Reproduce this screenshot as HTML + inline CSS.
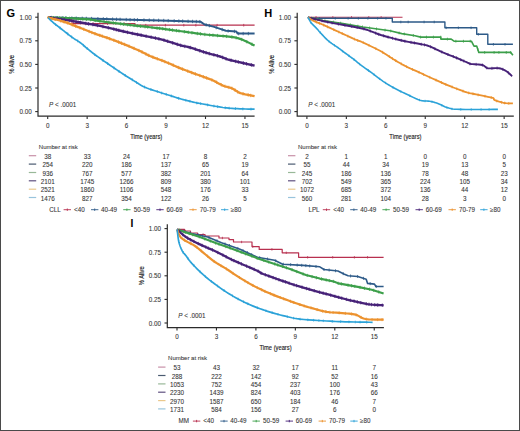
<!DOCTYPE html>
<html><head><meta charset="utf-8"><style>
html,body{margin:0;padding:0;background:#fff;}
svg{display:block;font-family:"Liberation Sans",sans-serif;}
text{stroke:#444;stroke-width:0.08px;}
</style></head><body>
<svg width="520" height="431" viewBox="0 0 520 431">
<rect x="0" y="0" width="520" height="431" fill="#fff"/>
<g transform="translate(0,0)">
<text x="6.6" y="16.6" font-size="11" font-weight="bold" fill="#000">G</text>
<path d="M38,12.8 V116.2 H254.6" fill="none" stroke="#2b2b2b" stroke-width="1.2"/>
<path d="M35.2,111.60 H38" stroke="#2b2b2b" stroke-width="1.1"/>
<text x="31.8" y="114.25" font-size="6.3" text-anchor="end" fill="#333">0.00</text>
<path d="M35.2,88.00 H38" stroke="#2b2b2b" stroke-width="1.1"/>
<text x="31.8" y="90.65" font-size="6.3" text-anchor="end" fill="#333">0.25</text>
<path d="M35.2,64.40 H38" stroke="#2b2b2b" stroke-width="1.1"/>
<text x="31.8" y="67.05" font-size="6.3" text-anchor="end" fill="#333">0.50</text>
<path d="M35.2,40.80 H38" stroke="#2b2b2b" stroke-width="1.1"/>
<text x="31.8" y="43.45" font-size="6.3" text-anchor="end" fill="#333">0.75</text>
<path d="M35.2,17.20 H38" stroke="#2b2b2b" stroke-width="1.1"/>
<text x="31.8" y="19.85" font-size="6.3" text-anchor="end" fill="#333">1.00</text>
<path d="M47.70,116.2 V119" stroke="#2b2b2b" stroke-width="1.1"/>
<text x="47.70" y="128.1" font-size="6.3" text-anchor="middle" fill="#333">0</text>
<path d="M87.15,116.2 V119" stroke="#2b2b2b" stroke-width="1.1"/>
<text x="87.15" y="128.1" font-size="6.3" text-anchor="middle" fill="#333">3</text>
<path d="M126.60,116.2 V119" stroke="#2b2b2b" stroke-width="1.1"/>
<text x="126.60" y="128.1" font-size="6.3" text-anchor="middle" fill="#333">6</text>
<path d="M166.05,116.2 V119" stroke="#2b2b2b" stroke-width="1.1"/>
<text x="166.05" y="128.1" font-size="6.3" text-anchor="middle" fill="#333">9</text>
<path d="M205.50,116.2 V119" stroke="#2b2b2b" stroke-width="1.1"/>
<text x="205.50" y="128.1" font-size="6.3" text-anchor="middle" fill="#333">12</text>
<path d="M244.95,116.2 V119" stroke="#2b2b2b" stroke-width="1.1"/>
<text x="244.95" y="128.1" font-size="6.3" text-anchor="middle" fill="#333">15</text>
<text transform="translate(146.2,138.7) scale(0.76,1)" font-size="7.6" text-anchor="middle" fill="#1a1a1a" style="stroke:#1a1a1a;stroke-width:0.15px">Time (years)</text>
<text transform="translate(14.4,64.4) rotate(-90) scale(0.76,1)" font-size="7.6" text-anchor="middle" fill="#1a1a1a" style="stroke:#1a1a1a;stroke-width:0.15px">% Alive</text>
<text x="49" y="106.5" font-size="6.3" fill="#333"><tspan font-style="italic">P</tspan> &lt; .0001</text>
<text x="38.8" y="148.8" font-size="6.0" fill="#333">Number at risk</text>
<path d="M28.8,155.70 H36.2" stroke="#c890a8" stroke-width="1.2"/>
<text x="47.70" y="158.75" font-size="6.3" text-anchor="middle" fill="#333">38</text>
<text x="87.15" y="158.75" font-size="6.3" text-anchor="middle" fill="#333">33</text>
<text x="126.60" y="158.75" font-size="6.3" text-anchor="middle" fill="#333">24</text>
<text x="166.05" y="158.75" font-size="6.3" text-anchor="middle" fill="#333">17</text>
<text x="205.50" y="158.75" font-size="6.3" text-anchor="middle" fill="#333">8</text>
<text x="244.95" y="158.75" font-size="6.3" text-anchor="middle" fill="#333">2</text>
<path d="M28.8,164.10 H36.2" stroke="#4a5a70" stroke-width="1.2"/>
<text x="47.70" y="167.15" font-size="6.3" text-anchor="middle" fill="#333">254</text>
<text x="87.15" y="167.15" font-size="6.3" text-anchor="middle" fill="#333">220</text>
<text x="126.60" y="167.15" font-size="6.3" text-anchor="middle" fill="#333">186</text>
<text x="166.05" y="167.15" font-size="6.3" text-anchor="middle" fill="#333">137</text>
<text x="205.50" y="167.15" font-size="6.3" text-anchor="middle" fill="#333">65</text>
<text x="244.95" y="167.15" font-size="6.3" text-anchor="middle" fill="#333">19</text>
<path d="M28.8,172.50 H36.2" stroke="#98b898" stroke-width="1.2"/>
<text x="47.70" y="175.55" font-size="6.3" text-anchor="middle" fill="#333">936</text>
<text x="87.15" y="175.55" font-size="6.3" text-anchor="middle" fill="#333">767</text>
<text x="126.60" y="175.55" font-size="6.3" text-anchor="middle" fill="#333">577</text>
<text x="166.05" y="175.55" font-size="6.3" text-anchor="middle" fill="#333">382</text>
<text x="205.50" y="175.55" font-size="6.3" text-anchor="middle" fill="#333">201</text>
<text x="244.95" y="175.55" font-size="6.3" text-anchor="middle" fill="#333">64</text>
<path d="M28.8,180.80 H36.2" stroke="#605080" stroke-width="1.2"/>
<text x="47.70" y="183.85" font-size="6.3" text-anchor="middle" fill="#333">2101</text>
<text x="87.15" y="183.85" font-size="6.3" text-anchor="middle" fill="#333">1745</text>
<text x="126.60" y="183.85" font-size="6.3" text-anchor="middle" fill="#333">1266</text>
<text x="166.05" y="183.85" font-size="6.3" text-anchor="middle" fill="#333">809</text>
<text x="205.50" y="183.85" font-size="6.3" text-anchor="middle" fill="#333">380</text>
<text x="244.95" y="183.85" font-size="6.3" text-anchor="middle" fill="#333">101</text>
<path d="M28.8,189.20 H36.2" stroke="#eac88c" stroke-width="1.2"/>
<text x="47.70" y="192.25" font-size="6.3" text-anchor="middle" fill="#333">2521</text>
<text x="87.15" y="192.25" font-size="6.3" text-anchor="middle" fill="#333">1860</text>
<text x="126.60" y="192.25" font-size="6.3" text-anchor="middle" fill="#333">1106</text>
<text x="166.05" y="192.25" font-size="6.3" text-anchor="middle" fill="#333">548</text>
<text x="205.50" y="192.25" font-size="6.3" text-anchor="middle" fill="#333">176</text>
<text x="244.95" y="192.25" font-size="6.3" text-anchor="middle" fill="#333">33</text>
<path d="M28.8,197.50 H36.2" stroke="#98c4dc" stroke-width="1.2"/>
<text x="47.70" y="200.55" font-size="6.3" text-anchor="middle" fill="#333">1476</text>
<text x="87.15" y="200.55" font-size="6.3" text-anchor="middle" fill="#333">827</text>
<text x="126.60" y="200.55" font-size="6.3" text-anchor="middle" fill="#333">354</text>
<text x="166.05" y="200.55" font-size="6.3" text-anchor="middle" fill="#333">122</text>
<text x="205.50" y="200.55" font-size="6.3" text-anchor="middle" fill="#333">26</text>
<text x="244.95" y="200.55" font-size="6.3" text-anchor="middle" fill="#333">5</text>
<text x="49.2" y="211.85" font-size="6.3" fill="#333">CLL</text>
<path d="M63.60,209.7 h7.4 M67.30,208.5 v2.4" stroke="#b8304f" stroke-width="0.9" fill="none"/>
<text x="74.00" y="211.85" font-size="6.3" fill="#333"><40</text>
<path d="M91.00,209.7 h7.4 M94.70,208.5 v2.4" stroke="#2d5a88" stroke-width="0.9" fill="none"/>
<text x="101.00" y="211.85" font-size="6.3" fill="#333">40-49</text>
<path d="M123.20,209.7 h7.4 M126.90,208.5 v2.4" stroke="#3c9f4a" stroke-width="0.9" fill="none"/>
<text x="133.80" y="211.85" font-size="6.3" fill="#333">50-59</text>
<path d="M156.30,209.7 h7.4 M160.00,208.5 v2.4" stroke="#472278" stroke-width="0.9" fill="none"/>
<text x="166.50" y="211.85" font-size="6.3" fill="#333">60-69</text>
<path d="M189.30,209.7 h7.4 M193.00,208.5 v2.4" stroke="#ec922e" stroke-width="0.9" fill="none"/>
<text x="199.70" y="211.85" font-size="6.3" fill="#333">70-79</text>
<path d="M221.00,209.7 h7.4 M224.70,208.5 v2.4" stroke="#2ba2d8" stroke-width="0.9" fill="none"/>
<text x="230.80" y="211.85" font-size="6.3" fill="#333">≥80</text>
</g>
<polyline points="48.20,17.50 58.00,17.50 58.00,19.60 72.00,19.60 72.00,23.60 135.00,23.60 135.00,25.20 254.60,25.20" fill="none" stroke="#b8304f" stroke-width="1.2" stroke-linejoin="round"/>
<path d="M68.20,18.30v2.60M93.08,22.30v2.60M107.51,22.30v2.60M124.29,22.30v2.60M145.77,23.90v2.60M165.39,23.90v2.60M183.81,23.90v2.60M195.83,23.90v2.60M217.14,23.90v2.60M243.73,23.90v2.60" stroke="#b8304f" stroke-width="0.8" fill="none"/>
<polyline points="48.20,17.50 105.00,18.90 130.00,19.70 160.00,20.40 200.40,21.70 204.50,24.50 213.40,26.60 221.70,29.40 225.90,30.80 236.30,31.50 237.70,33.60 254.60,33.60" fill="none" stroke="#2d5a88" stroke-width="2.0" stroke-linejoin="round"/>
<path d="M51.48,15.88v3.40M56.98,16.02v3.40M62.20,16.15v3.40M65.69,16.23v3.40M71.85,16.38v3.40M76.23,16.49v3.40M82.23,16.64v3.40M86.31,16.74v3.40M91.58,16.87v3.40M97.89,17.02v3.40M103.30,17.16v3.40M106.81,17.26v3.40M112.60,17.44v3.40M116.52,17.57v3.40M120.09,17.68v3.40M126.24,17.88v3.40M130.07,18.00v3.40M134.27,18.10v3.40M137.46,18.17v3.40M143.96,18.33v3.40M149.25,18.45v3.40M153.79,18.56v3.40M158.62,18.67v3.40M163.72,18.82v3.40M168.21,18.96v3.40M174.16,19.16v3.40M178.84,19.31v3.40M182.66,19.43v3.40M188.08,19.60v3.40M192.55,19.75v3.40M196.32,19.87v3.40M199.82,19.98v3.40M206.16,23.19v3.40M209.35,23.94v3.40M216.22,25.85v3.40M222.17,27.86v3.40M228.11,29.25v3.40M234.45,29.68v3.40M238.67,31.90v3.40M243.17,31.90v3.40M248.35,31.90v3.40" stroke="#2d5a88" stroke-width="0.8" fill="none"/>
<polyline points="48.20,17.50 52.46,17.67 58.55,17.90 65.66,18.17 72.99,18.47 79.70,18.79 85.00,19.10 88.59,19.40 91.06,19.70 92.92,20.01 94.70,20.36 96.88,20.75 100.00,21.20 104.13,21.74 108.89,22.36 114.06,23.02 119.44,23.70 124.83,24.37 130.00,25.00 135.00,25.58 140.00,26.14 145.00,26.68 150.00,27.23 155.00,27.80 160.00,28.40 165.17,29.07 170.56,29.79 175.94,30.54 181.11,31.26 185.87,31.93 190.00,32.50 193.37,32.96 196.11,33.35 198.44,33.67 200.56,33.96 202.67,34.23 205.00,34.50 207.53,34.76 210.08,34.99 212.64,35.19 215.16,35.39 217.63,35.59 220.00,35.80 222.30,36.00 224.54,36.18 226.72,36.36 228.84,36.56 230.87,36.80 232.80,37.10 234.58,37.43 236.21,37.78 237.75,38.17 239.28,38.62 240.87,39.15 242.60,39.80 244.61,40.65 246.88,41.72 249.21,42.87 251.41,43.98 253.27,44.93 254.60,45.60" fill="none" stroke="#3c9f4a" stroke-width="2.2" stroke-linejoin="round"/>
<path d="M53.42,16.00v3.40M57.23,16.15v3.40M59.71,16.24v3.40M63.26,16.38v3.40M66.38,16.50v3.40M69.55,16.63v3.40M74.82,16.86v3.40M78.32,17.02v3.40M82.82,17.27v3.40M86.42,17.52v3.40M90.63,17.95v3.40M95.22,18.75v3.40M99.85,19.48v3.40M104.17,20.04v3.40M108.80,20.64v3.40M113.33,21.23v3.40M115.78,21.54v3.40M120.68,22.15v3.40M123.45,22.50v3.40M127.60,23.01v3.40M130.20,23.32v3.40M134.02,23.77v3.40M137.28,24.13v3.40M140.49,24.49v3.40M145.05,24.99v3.40M147.65,25.27v3.40M152.04,25.76v3.40M157.06,26.35v3.40M159.58,26.65v3.40M162.74,27.05v3.40M165.70,27.44v3.40M169.52,27.95v3.40M172.50,28.36v3.40M176.50,28.92v3.40M179.01,29.27v3.40M184.35,30.02v3.40M188.24,30.56v3.40M191.95,31.07v3.40M197.37,31.82v3.40M200.52,32.26v3.40M204.82,32.78v3.40M209.68,33.25v3.40M212.96,33.52v3.40M217.52,33.88v3.40M223.02,34.36v3.40M226.60,34.65v3.40M231.90,35.26v3.40M236.14,36.07v3.40M241.72,37.77v3.40M246.81,39.98v3.40M251.97,42.57v3.40" stroke="#3c9f4a" stroke-width="0.8" fill="none"/>
<polyline points="48.20,17.50 50.25,17.78 53.10,18.15 56.48,18.60 60.10,19.09 63.70,19.60 67.00,20.10 70.08,20.61 73.17,21.14 76.24,21.70 79.25,22.26 82.18,22.79 85.00,23.30 87.50,23.72 89.67,24.05 91.75,24.36 94.00,24.73 96.67,25.22 100.00,25.90 104.13,26.82 108.89,27.94 114.06,29.17 119.44,30.46 124.83,31.73 130.00,32.90 135.12,33.98 140.37,35.03 145.62,36.06 150.74,37.07 155.58,38.08 160.00,39.10 164.03,40.17 167.78,41.28 171.25,42.39 174.44,43.45 177.36,44.40 180.00,45.20 182.19,45.77 183.89,46.15 185.31,46.43 186.67,46.68 188.16,47.01 190.00,47.50 192.21,48.18 194.63,48.97 197.19,49.84 199.81,50.73 202.44,51.60 205.00,52.40 207.56,53.14 210.19,53.85 212.81,54.54 215.37,55.21 217.79,55.86 220.00,56.50 221.79,57.09 223.16,57.63 224.40,58.16 225.77,58.70 227.55,59.30 230.00,60.00 233.54,60.88 238.03,61.92 242.93,63.02 247.68,64.07 251.75,64.97 254.60,65.60" fill="none" stroke="#472278" stroke-width="2.4" stroke-linejoin="round"/>
<path d="M50.63,16.03v3.60M55.42,16.66v3.60M57.83,16.98v3.60M61.19,17.45v3.60M64.30,17.89v3.60M69.31,18.68v3.60M73.37,19.38v3.60M76.07,19.87v3.60M80.53,20.69v3.60M85.80,21.63v3.60M88.43,22.06v3.60M92.83,22.74v3.60M97.47,23.58v3.60M102.95,24.76v3.60M108.30,26.00v3.60M113.83,27.32v3.60M116.28,27.91v3.60M118.83,28.52v3.60M123.29,29.57v3.60M127.53,30.54v3.60M132.25,31.58v3.60M137.56,32.67v3.60M141.18,33.39v3.60M146.10,34.35v3.60M151.11,35.35v3.60M155.45,36.26v3.60M158.89,37.05v3.60M163.99,38.36v3.60M167.68,39.45v3.60M172.67,41.06v3.60M177.30,42.59v3.60M180.64,43.57v3.60M184.79,44.52v3.60M190.26,45.78v3.60M195.30,47.40v3.60M199.72,48.90v3.60M203.44,50.11v3.60M206.06,50.91v3.60M209.31,51.81v3.60M213.89,53.02v3.60M217.43,53.96v3.60M222.61,55.62v3.60M226.04,56.99v3.60M231.06,58.46v3.60M235.68,59.57v3.60M238.30,60.18v3.60M243.42,61.33v3.60M246.55,62.02v3.60M251.34,63.08v3.60" stroke="#472278" stroke-width="0.8" fill="none"/>
<polyline points="48.20,17.50 48.24,17.51 48.18,17.50 48.16,17.49 48.36,17.55 48.92,17.70 50.00,18.00 51.74,18.46 54.02,19.04 56.67,19.72 59.51,20.48 62.35,21.28 65.00,22.10 67.50,22.96 70.00,23.87 72.50,24.84 75.00,25.83 77.50,26.82 80.00,27.80 82.50,28.78 85.00,29.78 87.50,30.79 90.00,31.79 92.50,32.76 95.00,33.70 97.50,34.59 100.00,35.43 102.50,36.26 105.00,37.08 107.50,37.92 110.00,38.80 112.50,39.72 115.00,40.66 117.50,41.62 120.00,42.60 122.50,43.59 125.00,44.60 127.56,45.65 130.19,46.74 132.81,47.85 135.37,48.95 137.79,50.01 140.00,51.00 141.90,51.91 143.52,52.74 145.00,53.54 146.48,54.33 148.10,55.14 150.00,56.00 152.21,56.90 154.63,57.82 157.19,58.76 159.81,59.72 162.44,60.70 165.00,61.70 167.50,62.73 170.00,63.81 172.50,64.90 175.00,65.99 177.50,67.07 180.00,68.10 182.48,69.09 184.94,70.04 187.41,70.97 189.89,71.90 192.41,72.84 195.00,73.80 197.72,74.78 200.57,75.79 203.47,76.79 206.31,77.80 209.02,78.81 211.50,79.80 213.73,80.81 215.79,81.86 217.70,82.89 219.51,83.89 221.27,84.80 223.00,85.60 224.69,86.23 226.31,86.72 227.86,87.12 229.37,87.51 230.84,87.95 232.30,88.50 233.65,89.19 234.86,89.96 236.04,90.79 237.29,91.61 238.71,92.40 240.40,93.10 242.58,93.74 245.21,94.36 248.01,94.94 250.69,95.45 252.98,95.88 254.60,96.20" fill="none" stroke="#ec922e" stroke-width="2.3" stroke-linejoin="round"/>
<path d="M52.01,16.83v3.40M55.16,17.63v3.40M60.50,19.06v3.40M64.02,20.10v3.40M67.33,21.20v3.40M72.24,23.04v3.40M75.49,24.32v3.40M79.90,26.06v3.40M83.79,27.60v3.40M89.18,29.76v3.40M91.87,30.82v3.40M94.96,31.98v3.40M99.79,33.66v3.40M102.28,34.48v3.40M106.90,36.02v3.40M109.61,36.96v3.40M113.84,38.52v3.40M118.56,40.33v3.40M121.47,41.48v3.40M124.59,42.73v3.40M129.11,44.59v3.40M134.08,46.69v3.40M138.91,48.81v3.40M142.06,50.29v3.40M145.92,52.34v3.40M148.74,53.73v3.40M152.84,55.44v3.40M157.31,57.11v3.40M161.88,58.79v3.40M164.81,59.92v3.40M168.42,61.43v3.40M173.29,63.54v3.40M178.63,65.83v3.40M182.56,67.42v3.40M187.73,69.39v3.40M191.70,70.87v3.40M195.49,72.28v3.40M199.82,73.82v3.40M203.40,75.07v3.40M206.61,76.21v3.40M211.90,78.28v3.40M216.64,80.62v3.40M221.27,83.11v3.40M225.03,84.63v3.40M228.88,85.69v3.40M231.93,86.66v3.40M235.08,88.42v3.40M237.57,90.07v3.40M242.99,92.14v3.40M248.20,93.27v3.40M250.67,93.75v3.40" stroke="#ec922e" stroke-width="0.8" fill="none"/>
<polyline points="48.20,17.50 48.37,17.71 48.57,17.98 48.83,18.31 49.15,18.69 49.53,19.12 50.00,19.60 50.57,20.15 51.24,20.78 51.98,21.46 52.75,22.16 53.54,22.85 54.30,23.50 55.03,24.09 55.76,24.65 56.49,25.19 57.24,25.75 58.04,26.35 58.90,27.00 59.81,27.71 60.76,28.46 61.75,29.24 62.79,30.06 63.87,30.92 65.00,31.80 66.21,32.75 67.50,33.76 68.83,34.81 70.18,35.85 71.52,36.86 72.80,37.80 74.03,38.64 75.24,39.41 76.44,40.15 77.62,40.89 78.81,41.66 80.00,42.50 81.21,43.43 82.42,44.43 83.64,45.46 84.84,46.50 86.03,47.53 87.20,48.50 88.34,49.43 89.46,50.35 90.56,51.24 91.65,52.12 92.73,52.97 93.80,53.80 94.81,54.57 95.76,55.27 96.69,55.95 97.67,56.65 98.75,57.42 100.00,58.30 101.45,59.31 103.05,60.43 104.76,61.61 106.53,62.82 108.29,64.03 110.00,65.20 111.70,66.36 113.43,67.55 115.17,68.74 116.87,69.89 118.49,70.99 120.00,72.00 121.37,72.90 122.62,73.72 123.79,74.48 124.94,75.20 126.09,75.94 127.30,76.70 128.54,77.48 129.77,78.26 131.01,79.04 132.28,79.84 133.60,80.65 135.00,81.50 136.43,82.39 137.86,83.32 139.34,84.27 140.93,85.23 142.67,86.18 144.60,87.10 146.84,88.01 149.37,88.94 152.05,89.85 154.74,90.73 157.30,91.55 159.60,92.30 161.59,92.95 163.39,93.50 165.05,94.01 166.66,94.49 168.29,94.97 170.00,95.50 171.76,96.07 173.51,96.64 175.28,97.23 177.09,97.82 178.99,98.41 181.00,99.00 183.26,99.61 185.78,100.26 188.38,100.91 190.89,101.52 193.15,102.06 195.00,102.50 196.15,102.78 196.67,102.91 196.94,102.97 197.33,103.04 198.23,103.19 200.00,103.50 202.86,104.02 206.56,104.71 210.75,105.48 215.11,106.26 219.31,106.95 223.00,107.50 226.21,107.88 229.20,108.17 232.03,108.38 234.73,108.53 237.37,108.67 240.00,108.80 242.74,108.92 245.59,109.01 248.36,109.08 250.90,109.13 253.04,109.17 254.60,109.20" fill="none" stroke="#2ba2d8" stroke-width="1.7" stroke-linejoin="round"/>
<path d="M55.61,23.14v2.80M60.16,26.59v2.80M67.72,32.53v2.80M71.60,35.52v2.80M77.68,39.52v2.80M83.41,43.87v2.80M87.24,47.13v2.80M94.73,53.10v2.80M103.00,58.99v2.80M107.65,62.19v2.80M113.97,66.52v2.80M119.01,69.94v2.80M125.24,74.00v2.80M132.34,78.48v2.80M136.56,81.08v2.80M144.40,85.61v2.80M150.87,88.05v2.80M157.29,90.15v2.80M161.69,91.58v2.80M166.22,92.95v2.80M171.28,94.51v2.80M178.56,96.88v2.80M185.82,98.87v2.80M189.93,99.88v2.80M196.84,101.55v2.80M200.69,102.23v2.80M207.66,103.51v2.80M213.91,104.64v2.80M217.63,105.28v2.80M225.22,106.37v2.80M229.19,106.77v2.80M235.45,107.17v2.80M242.83,107.53v2.80M250.99,107.73v2.80" stroke="#2ba2d8" stroke-width="0.8" fill="none"/>
<g transform="translate(259.2,0)">
<text x="5.0" y="16.6" font-size="11" font-weight="bold" fill="#000">H</text>
<path d="M38,12.8 V116.2 H254.6" fill="none" stroke="#2b2b2b" stroke-width="1.2"/>
<path d="M35.2,111.60 H38" stroke="#2b2b2b" stroke-width="1.1"/>
<text x="31.8" y="114.25" font-size="6.3" text-anchor="end" fill="#333">0.00</text>
<path d="M35.2,88.00 H38" stroke="#2b2b2b" stroke-width="1.1"/>
<text x="31.8" y="90.65" font-size="6.3" text-anchor="end" fill="#333">0.25</text>
<path d="M35.2,64.40 H38" stroke="#2b2b2b" stroke-width="1.1"/>
<text x="31.8" y="67.05" font-size="6.3" text-anchor="end" fill="#333">0.50</text>
<path d="M35.2,40.80 H38" stroke="#2b2b2b" stroke-width="1.1"/>
<text x="31.8" y="43.45" font-size="6.3" text-anchor="end" fill="#333">0.75</text>
<path d="M35.2,17.20 H38" stroke="#2b2b2b" stroke-width="1.1"/>
<text x="31.8" y="19.85" font-size="6.3" text-anchor="end" fill="#333">1.00</text>
<path d="M47.70,116.2 V119" stroke="#2b2b2b" stroke-width="1.1"/>
<text x="47.70" y="128.1" font-size="6.3" text-anchor="middle" fill="#333">0</text>
<path d="M87.15,116.2 V119" stroke="#2b2b2b" stroke-width="1.1"/>
<text x="87.15" y="128.1" font-size="6.3" text-anchor="middle" fill="#333">3</text>
<path d="M126.60,116.2 V119" stroke="#2b2b2b" stroke-width="1.1"/>
<text x="126.60" y="128.1" font-size="6.3" text-anchor="middle" fill="#333">6</text>
<path d="M166.05,116.2 V119" stroke="#2b2b2b" stroke-width="1.1"/>
<text x="166.05" y="128.1" font-size="6.3" text-anchor="middle" fill="#333">9</text>
<path d="M205.50,116.2 V119" stroke="#2b2b2b" stroke-width="1.1"/>
<text x="205.50" y="128.1" font-size="6.3" text-anchor="middle" fill="#333">12</text>
<path d="M244.95,116.2 V119" stroke="#2b2b2b" stroke-width="1.1"/>
<text x="244.95" y="128.1" font-size="6.3" text-anchor="middle" fill="#333">15</text>
<text transform="translate(146.2,138.7) scale(0.76,1)" font-size="7.6" text-anchor="middle" fill="#1a1a1a" style="stroke:#1a1a1a;stroke-width:0.15px">Time (years)</text>
<text transform="translate(14.4,64.4) rotate(-90) scale(0.76,1)" font-size="7.6" text-anchor="middle" fill="#1a1a1a" style="stroke:#1a1a1a;stroke-width:0.15px">% Alive</text>
<text x="49" y="106.5" font-size="6.3" fill="#333"><tspan font-style="italic">P</tspan> &lt; .0001</text>
<text x="38.8" y="148.8" font-size="6.0" fill="#333">Number at risk</text>
<path d="M28.8,155.70 H36.2" stroke="#c890a8" stroke-width="1.2"/>
<text x="47.70" y="158.75" font-size="6.3" text-anchor="middle" fill="#333">2</text>
<text x="87.15" y="158.75" font-size="6.3" text-anchor="middle" fill="#333">1</text>
<text x="126.60" y="158.75" font-size="6.3" text-anchor="middle" fill="#333">1</text>
<text x="166.05" y="158.75" font-size="6.3" text-anchor="middle" fill="#333">0</text>
<text x="205.50" y="158.75" font-size="6.3" text-anchor="middle" fill="#333">0</text>
<text x="244.95" y="158.75" font-size="6.3" text-anchor="middle" fill="#333">0</text>
<path d="M28.8,164.10 H36.2" stroke="#4a5a70" stroke-width="1.2"/>
<text x="47.70" y="167.15" font-size="6.3" text-anchor="middle" fill="#333">55</text>
<text x="87.15" y="167.15" font-size="6.3" text-anchor="middle" fill="#333">44</text>
<text x="126.60" y="167.15" font-size="6.3" text-anchor="middle" fill="#333">34</text>
<text x="166.05" y="167.15" font-size="6.3" text-anchor="middle" fill="#333">19</text>
<text x="205.50" y="167.15" font-size="6.3" text-anchor="middle" fill="#333">13</text>
<text x="244.95" y="167.15" font-size="6.3" text-anchor="middle" fill="#333">5</text>
<path d="M28.8,172.50 H36.2" stroke="#98b898" stroke-width="1.2"/>
<text x="47.70" y="175.55" font-size="6.3" text-anchor="middle" fill="#333">245</text>
<text x="87.15" y="175.55" font-size="6.3" text-anchor="middle" fill="#333">186</text>
<text x="126.60" y="175.55" font-size="6.3" text-anchor="middle" fill="#333">136</text>
<text x="166.05" y="175.55" font-size="6.3" text-anchor="middle" fill="#333">78</text>
<text x="205.50" y="175.55" font-size="6.3" text-anchor="middle" fill="#333">48</text>
<text x="244.95" y="175.55" font-size="6.3" text-anchor="middle" fill="#333">23</text>
<path d="M28.8,180.80 H36.2" stroke="#605080" stroke-width="1.2"/>
<text x="47.70" y="183.85" font-size="6.3" text-anchor="middle" fill="#333">702</text>
<text x="87.15" y="183.85" font-size="6.3" text-anchor="middle" fill="#333">549</text>
<text x="126.60" y="183.85" font-size="6.3" text-anchor="middle" fill="#333">365</text>
<text x="166.05" y="183.85" font-size="6.3" text-anchor="middle" fill="#333">224</text>
<text x="205.50" y="183.85" font-size="6.3" text-anchor="middle" fill="#333">105</text>
<text x="244.95" y="183.85" font-size="6.3" text-anchor="middle" fill="#333">34</text>
<path d="M28.8,189.20 H36.2" stroke="#eac88c" stroke-width="1.2"/>
<text x="47.70" y="192.25" font-size="6.3" text-anchor="middle" fill="#333">1072</text>
<text x="87.15" y="192.25" font-size="6.3" text-anchor="middle" fill="#333">685</text>
<text x="126.60" y="192.25" font-size="6.3" text-anchor="middle" fill="#333">372</text>
<text x="166.05" y="192.25" font-size="6.3" text-anchor="middle" fill="#333">136</text>
<text x="205.50" y="192.25" font-size="6.3" text-anchor="middle" fill="#333">44</text>
<text x="244.95" y="192.25" font-size="6.3" text-anchor="middle" fill="#333">12</text>
<path d="M28.8,197.50 H36.2" stroke="#98c4dc" stroke-width="1.2"/>
<text x="47.70" y="200.55" font-size="6.3" text-anchor="middle" fill="#333">560</text>
<text x="87.15" y="200.55" font-size="6.3" text-anchor="middle" fill="#333">281</text>
<text x="126.60" y="200.55" font-size="6.3" text-anchor="middle" fill="#333">104</text>
<text x="166.05" y="200.55" font-size="6.3" text-anchor="middle" fill="#333">28</text>
<text x="205.50" y="200.55" font-size="6.3" text-anchor="middle" fill="#333">3</text>
<text x="244.95" y="200.55" font-size="6.3" text-anchor="middle" fill="#333">0</text>
<text x="49.2" y="211.85" font-size="6.3" fill="#333">LPL</text>
<path d="M63.60,209.7 h7.4 M67.30,208.5 v2.4" stroke="#b8304f" stroke-width="0.9" fill="none"/>
<text x="74.00" y="211.85" font-size="6.3" fill="#333"><40</text>
<path d="M91.00,209.7 h7.4 M94.70,208.5 v2.4" stroke="#2d5a88" stroke-width="0.9" fill="none"/>
<text x="101.00" y="211.85" font-size="6.3" fill="#333">40-49</text>
<path d="M123.20,209.7 h7.4 M126.90,208.5 v2.4" stroke="#3c9f4a" stroke-width="0.9" fill="none"/>
<text x="133.80" y="211.85" font-size="6.3" fill="#333">50-59</text>
<path d="M156.30,209.7 h7.4 M160.00,208.5 v2.4" stroke="#472278" stroke-width="0.9" fill="none"/>
<text x="166.50" y="211.85" font-size="6.3" fill="#333">60-69</text>
<path d="M189.30,209.7 h7.4 M193.00,208.5 v2.4" stroke="#ec922e" stroke-width="0.9" fill="none"/>
<text x="199.70" y="211.85" font-size="6.3" fill="#333">70-79</text>
<path d="M221.00,209.7 h7.4 M224.70,208.5 v2.4" stroke="#2ba2d8" stroke-width="0.9" fill="none"/>
<text x="230.80" y="211.85" font-size="6.3" fill="#333">≥80</text>
</g>
<polyline points="307.90,17.30 402.50,17.30" fill="none" stroke="#b8304f" stroke-width="1.1" stroke-linejoin="round"/>
<path d="M316.06,16.10v2.40M332.83,16.10v2.40M351.52,16.10v2.40M368.79,16.10v2.40M381.15,16.10v2.40" stroke="#b8304f" stroke-width="0.8" fill="none"/>
<polyline points="307.90,17.30 310.00,18.30 392.30,18.30 392.30,22.00 444.90,22.00 444.90,27.80 476.70,27.80 476.70,34.30 487.80,34.30 487.80,44.30 512.90,44.30" fill="none" stroke="#2d5a88" stroke-width="1.4" stroke-linejoin="round"/>
<path d="M319.35,17.00v2.60M335.28,17.00v2.60M348.12,17.00v2.60M358.34,17.00v2.60M367.86,17.00v2.60M377.61,17.00v2.60M385.98,17.00v2.60M400.82,20.70v2.60M408.16,20.70v2.60M424.07,20.70v2.60M434.19,20.70v2.60M446.18,26.50v2.60M458.35,26.50v2.60M471.07,26.50v2.60M478.33,33.00v2.60M493.42,43.00v2.60M505.03,43.00v2.60" stroke="#2d5a88" stroke-width="0.8" fill="none"/>
<polyline points="307.90,17.30 323.00,20.50 343.00,23.50 363.00,27.00 390.00,30.80 401.80,33.60 415.00,35.70 420.60,37.10 440.80,37.10 440.80,39.10 451.20,39.10 454.00,41.20 471.40,41.20 474.00,46.10 476.70,46.10 478.80,52.40 510.80,52.40 512.90,55.20" fill="none" stroke="#3c9f4a" stroke-width="1.6" stroke-linejoin="round"/>
<path d="M313.01,16.98v2.80M317.50,17.93v2.80M324.91,19.39v2.80M333.59,20.69v2.80M340.61,21.74v2.80M350.36,23.39v2.80M357.89,24.71v2.80M362.50,25.51v2.80M369.57,26.53v2.80M376.49,27.50v2.80M385.03,28.70v2.80M390.76,29.58v2.80M399.13,31.57v2.80M404.34,32.60v2.80M413.32,34.03v2.80M420.58,35.70v2.80M426.48,35.70v2.80M433.43,35.70v2.80M440.75,35.70v2.80M447.42,37.70v2.80M455.87,39.80v2.80M463.45,39.80v2.80M470.26,39.80v2.80M477.83,48.08v2.80M484.67,51.00v2.80M494.09,51.00v2.80M498.90,51.00v2.80M506.28,51.00v2.80M510.70,51.00v2.80" stroke="#3c9f4a" stroke-width="0.8" fill="none"/>
<polyline points="307.90,17.30 308.80,17.55 309.97,17.89 311.40,18.29 313.05,18.74 314.89,19.21 316.90,19.70 319.00,20.18 321.19,20.68 323.58,21.20 326.26,21.77 329.34,22.39 332.90,23.10 337.24,23.90 342.34,24.78 347.83,25.72 353.35,26.70 358.53,27.70 363.00,28.70 366.65,29.72 369.76,30.78 372.52,31.86 375.16,32.93 377.88,33.99 380.90,35.00 384.24,35.99 387.74,36.97 391.33,37.92 394.92,38.84 398.44,39.71 401.80,40.50 405.10,41.22 408.41,41.87 411.65,42.46 414.72,43.01 417.54,43.52 420.00,44.00 421.96,44.38 423.47,44.65 424.72,44.88 425.91,45.14 427.23,45.52 428.90,46.10 430.93,46.92 433.16,47.91 435.53,49.03 437.97,50.20 440.42,51.34 442.80,52.40 445.16,53.38 447.57,54.35 449.98,55.29 452.34,56.22 454.63,57.12 456.80,58.00 458.91,58.89 461.01,59.79 463.02,60.68 464.89,61.50 466.54,62.22 467.90,62.80 468.80,63.21 469.26,63.47 469.49,63.64 469.73,63.75 470.20,63.85 471.10,64.00 472.57,64.15 474.45,64.27 476.56,64.38 478.69,64.51 480.67,64.71 482.30,65.00 483.48,65.44 484.34,66.02 485.05,66.66 485.76,67.29 486.62,67.83 487.80,68.20 489.39,68.35 491.27,68.33 493.31,68.22 495.37,68.11 497.31,68.08 499.00,68.20 500.42,68.48 501.67,68.84 502.81,69.28 503.88,69.79 504.93,70.36 506.00,71.00 507.15,71.79 508.36,72.75 509.54,73.78 510.62,74.76 511.53,75.61 512.20,76.20" fill="none" stroke="#472278" stroke-width="1.9" stroke-linejoin="round"/>
<path d="M311.28,16.75v3.00M315.24,17.80v3.00M321.97,19.35v3.00M327.77,20.57v3.00M332.10,21.44v3.00M338.34,22.59v3.00M344.95,23.73v3.00M351.72,24.91v3.00M357.19,25.94v3.00M363.90,27.45v3.00M370.28,29.48v3.00M375.63,31.61v3.00M378.66,32.75v3.00M383.70,34.33v3.00M388.04,35.55v3.00M392.47,36.72v3.00M395.74,37.55v3.00M401.25,38.87v3.00M404.88,39.67v3.00M411.00,40.84v3.00M414.42,41.46v3.00M421.26,42.75v3.00M424.55,43.35v3.00M430.62,45.29v3.00M434.90,47.23v3.00M441.79,50.45v3.00M447.93,52.99v3.00M453.31,55.10v3.00M456.60,56.42v3.00M460.75,58.18v3.00M463.87,59.55v3.00M469.96,62.30v3.00M476.16,62.85v3.00M482.42,63.55v3.00M486.82,66.39v3.00M491.92,66.80v3.00M497.09,66.58v3.00M502.85,67.79v3.00M508.47,71.35v3.00" stroke="#472278" stroke-width="0.8" fill="none"/>
<polyline points="307.90,17.30 308.35,17.62 308.91,18.04 309.60,18.55 310.45,19.13 311.47,19.75 312.70,20.40 314.17,21.08 315.86,21.82 317.73,22.60 319.73,23.43 321.80,24.29 323.90,25.20 326.03,26.15 328.23,27.14 330.50,28.17 332.85,29.24 335.28,30.35 337.80,31.50 340.53,32.75 343.50,34.13 346.54,35.54 349.51,36.91 352.25,38.16 354.60,39.20 356.39,39.95 357.70,40.44 358.79,40.81 359.87,41.19 361.20,41.71 363.00,42.50 365.42,43.62 368.29,44.97 371.40,46.47 374.53,48.00 377.47,49.48 380.00,50.80 382.13,51.99 384.05,53.14 385.78,54.23 387.33,55.25 388.73,56.18 390.00,57.00 391.00,57.64 391.67,58.11 392.20,58.48 392.75,58.86 393.49,59.33 394.60,60.00 396.10,60.88 397.87,61.92 399.83,63.05 401.91,64.23 404.06,65.39 406.20,66.50 408.46,67.59 410.93,68.71 413.46,69.83 415.90,70.90 418.13,71.87 420.00,72.70 421.27,73.29 422.00,73.64 422.51,73.91 423.11,74.21 424.14,74.70 425.90,75.50 428.55,76.70 431.86,78.20 435.58,79.89 439.48,81.63 443.30,83.31 446.80,84.80 450.10,86.16 453.41,87.48 456.65,88.74 459.72,89.91 462.54,90.94 465.00,91.80 466.96,92.44 468.47,92.87 469.72,93.16 470.91,93.40 472.23,93.65 473.90,94.00 476.02,94.45 478.47,94.94 481.06,95.45 483.60,95.95 485.91,96.41 487.80,96.80 489.26,97.11 490.44,97.35 491.38,97.55 492.15,97.74 492.81,97.95 493.40,98.20 493.78,98.49 493.87,98.79 493.84,99.11 493.87,99.45 494.13,99.81 494.80,100.20 495.95,100.65 497.47,101.16 499.21,101.70 501.06,102.21 502.86,102.66 504.50,103.00 506.07,103.21 507.71,103.33 509.31,103.38 510.77,103.39 512.00,103.38 512.90,103.40" fill="none" stroke="#ec922e" stroke-width="1.8" stroke-linejoin="round"/>
<path d="M310.44,17.72v2.80M316.43,20.66v2.80M319.43,21.90v2.80M323.64,23.69v2.80M327.52,25.42v2.80M333.79,28.27v2.80M338.87,30.59v2.80M342.24,32.14v2.80M347.82,34.73v2.80M354.40,37.71v2.80M357.69,39.03v2.80M363.19,41.19v2.80M368.98,43.91v2.80M375.84,47.26v2.80M382.52,50.82v2.80M389.44,55.24v2.80M392.50,57.29v2.80M395.68,59.24v2.80M401.26,62.46v2.80M406.56,65.27v2.80M412.46,67.99v2.80M419.09,70.90v2.80M423.62,73.05v2.80M429.78,75.86v2.80M436.04,78.69v2.80M441.47,81.10v2.80M445.77,82.96v2.80M452.13,85.57v2.80M456.75,87.38v2.80M462.98,89.69v2.80M468.78,91.54v2.80M472.95,92.40v2.80M478.13,93.47v2.80M484.98,94.82v2.80M491.28,96.13v2.80M496.79,99.53v2.80M501.45,100.91v2.80M504.73,101.63v2.80M508.79,101.96v2.80" stroke="#ec922e" stroke-width="0.8" fill="none"/>
<polyline points="307.90,17.30 308.07,17.59 308.30,17.99 308.58,18.46 308.89,18.97 309.20,19.50 309.50,20.00 309.76,20.46 309.98,20.91 310.21,21.37 310.49,21.87 310.87,22.43 311.40,23.10 312.14,23.91 313.06,24.86 314.07,25.87 315.11,26.89 316.08,27.85 316.90,28.70 317.49,29.36 317.91,29.86 318.26,30.31 318.66,30.80 319.20,31.43 320.00,32.30 321.09,33.48 322.40,34.90 323.86,36.47 325.41,38.07 326.97,39.62 328.50,41.00 330.05,42.24 331.69,43.42 333.35,44.54 334.97,45.60 336.47,46.59 337.80,47.50 338.89,48.30 339.79,48.97 340.58,49.57 341.34,50.16 342.15,50.79 343.10,51.50 344.22,52.33 345.47,53.25 346.76,54.20 348.04,55.14 349.25,56.02 350.30,56.80 351.17,57.44 351.91,57.98 352.56,58.46 353.19,58.92 353.85,59.42 354.60,60.00 355.37,60.62 356.09,61.23 356.85,61.88 357.71,62.60 358.73,63.43 360.00,64.40 361.56,65.55 363.38,66.87 365.36,68.29 367.43,69.77 369.51,71.25 371.50,72.70 373.43,74.13 375.36,75.60 377.30,77.08 379.24,78.54 381.17,79.96 383.10,81.30 385.02,82.57 386.94,83.80 388.85,84.98 390.76,86.12 392.68,87.23 394.60,88.30 396.50,89.32 398.38,90.28 400.26,91.20 402.17,92.11 404.14,93.04 406.20,94.00 408.42,95.06 410.79,96.22 413.22,97.39 415.63,98.49 417.92,99.46 420.00,100.20 421.87,100.67 423.58,100.91 425.18,101.01 426.70,101.06 428.16,101.12 429.60,101.30 430.95,101.55 432.17,101.80 433.33,102.07 434.52,102.39 435.82,102.79 437.30,103.30 439.00,103.98 440.85,104.82 442.81,105.74 444.82,106.66 446.83,107.47 448.80,108.10 450.43,108.53 451.70,108.84 452.97,109.05 454.61,109.19 456.97,109.30 460.40,109.40 465.59,109.48 472.37,109.50 479.87,109.48 487.22,109.45 493.52,109.42 497.90,109.40" fill="none" stroke="#2ba2d8" stroke-width="1.6" stroke-linejoin="round"/>
<path d="M311.05,21.46v2.40M320.17,31.28v2.40M328.93,40.14v2.40M334.51,44.10v2.40M342.55,49.88v2.40M348.93,54.59v2.40M353.96,58.31v2.40M359.53,62.84v2.40M368.50,69.33v2.40M374.16,73.49v2.40M379.67,77.66v2.40M385.64,81.77v2.40M393.04,86.23v2.40M400.87,90.29v2.40M409.84,94.56v2.40M419.51,98.82v2.40M425.07,99.81v2.40M432.01,100.56v2.40M441.81,104.08v2.40M447.00,106.32v2.40M451.99,107.69v2.40M460.75,108.21v2.40M471.24,108.29v2.40M481.09,108.28v2.40M489.12,108.24v2.40" stroke="#2ba2d8" stroke-width="0.8" fill="none"/>
<g transform="translate(129.3,211.4)">
<text x="1.1" y="15.4" font-size="10.2" font-weight="bold" fill="#000">I</text>
<path d="M38,12.8 V116.2 H254.6" fill="none" stroke="#2b2b2b" stroke-width="1.2"/>
<path d="M35.2,111.60 H38" stroke="#2b2b2b" stroke-width="1.1"/>
<text x="31.8" y="114.25" font-size="6.3" text-anchor="end" fill="#333">0.00</text>
<path d="M35.2,88.00 H38" stroke="#2b2b2b" stroke-width="1.1"/>
<text x="31.8" y="90.65" font-size="6.3" text-anchor="end" fill="#333">0.25</text>
<path d="M35.2,64.40 H38" stroke="#2b2b2b" stroke-width="1.1"/>
<text x="31.8" y="67.05" font-size="6.3" text-anchor="end" fill="#333">0.50</text>
<path d="M35.2,40.80 H38" stroke="#2b2b2b" stroke-width="1.1"/>
<text x="31.8" y="43.45" font-size="6.3" text-anchor="end" fill="#333">0.75</text>
<path d="M35.2,17.20 H38" stroke="#2b2b2b" stroke-width="1.1"/>
<text x="31.8" y="19.85" font-size="6.3" text-anchor="end" fill="#333">1.00</text>
<path d="M47.70,116.2 V119" stroke="#2b2b2b" stroke-width="1.1"/>
<text x="47.70" y="128.1" font-size="6.3" text-anchor="middle" fill="#333">0</text>
<path d="M87.15,116.2 V119" stroke="#2b2b2b" stroke-width="1.1"/>
<text x="87.15" y="128.1" font-size="6.3" text-anchor="middle" fill="#333">3</text>
<path d="M126.60,116.2 V119" stroke="#2b2b2b" stroke-width="1.1"/>
<text x="126.60" y="128.1" font-size="6.3" text-anchor="middle" fill="#333">6</text>
<path d="M166.05,116.2 V119" stroke="#2b2b2b" stroke-width="1.1"/>
<text x="166.05" y="128.1" font-size="6.3" text-anchor="middle" fill="#333">9</text>
<path d="M205.50,116.2 V119" stroke="#2b2b2b" stroke-width="1.1"/>
<text x="205.50" y="128.1" font-size="6.3" text-anchor="middle" fill="#333">12</text>
<path d="M244.95,116.2 V119" stroke="#2b2b2b" stroke-width="1.1"/>
<text x="244.95" y="128.1" font-size="6.3" text-anchor="middle" fill="#333">15</text>
<text transform="translate(146.2,138.7) scale(0.76,1)" font-size="7.6" text-anchor="middle" fill="#1a1a1a" style="stroke:#1a1a1a;stroke-width:0.15px">Time (years)</text>
<text transform="translate(14.4,64.4) rotate(-90) scale(0.76,1)" font-size="7.6" text-anchor="middle" fill="#1a1a1a" style="stroke:#1a1a1a;stroke-width:0.15px">% Alive</text>
<text x="49" y="106.5" font-size="6.3" fill="#333"><tspan font-style="italic">P</tspan> &lt; .0001</text>
<text x="38.8" y="148.8" font-size="6.0" fill="#333">Number at risk</text>
<path d="M28.8,155.70 H36.2" stroke="#c890a8" stroke-width="1.2"/>
<text x="47.70" y="158.75" font-size="6.3" text-anchor="middle" fill="#333">53</text>
<text x="87.15" y="158.75" font-size="6.3" text-anchor="middle" fill="#333">43</text>
<text x="126.60" y="158.75" font-size="6.3" text-anchor="middle" fill="#333">32</text>
<text x="166.05" y="158.75" font-size="6.3" text-anchor="middle" fill="#333">17</text>
<text x="205.50" y="158.75" font-size="6.3" text-anchor="middle" fill="#333">11</text>
<text x="244.95" y="158.75" font-size="6.3" text-anchor="middle" fill="#333">7</text>
<path d="M28.8,164.10 H36.2" stroke="#4a5a70" stroke-width="1.2"/>
<text x="47.70" y="167.15" font-size="6.3" text-anchor="middle" fill="#333">288</text>
<text x="87.15" y="167.15" font-size="6.3" text-anchor="middle" fill="#333">222</text>
<text x="126.60" y="167.15" font-size="6.3" text-anchor="middle" fill="#333">142</text>
<text x="166.05" y="167.15" font-size="6.3" text-anchor="middle" fill="#333">92</text>
<text x="205.50" y="167.15" font-size="6.3" text-anchor="middle" fill="#333">52</text>
<text x="244.95" y="167.15" font-size="6.3" text-anchor="middle" fill="#333">16</text>
<path d="M28.8,172.50 H36.2" stroke="#98b898" stroke-width="1.2"/>
<text x="47.70" y="175.55" font-size="6.3" text-anchor="middle" fill="#333">1053</text>
<text x="87.15" y="175.55" font-size="6.3" text-anchor="middle" fill="#333">752</text>
<text x="126.60" y="175.55" font-size="6.3" text-anchor="middle" fill="#333">454</text>
<text x="166.05" y="175.55" font-size="6.3" text-anchor="middle" fill="#333">237</text>
<text x="205.50" y="175.55" font-size="6.3" text-anchor="middle" fill="#333">100</text>
<text x="244.95" y="175.55" font-size="6.3" text-anchor="middle" fill="#333">43</text>
<path d="M28.8,180.80 H36.2" stroke="#605080" stroke-width="1.2"/>
<text x="47.70" y="183.85" font-size="6.3" text-anchor="middle" fill="#333">2230</text>
<text x="87.15" y="183.85" font-size="6.3" text-anchor="middle" fill="#333">1439</text>
<text x="126.60" y="183.85" font-size="6.3" text-anchor="middle" fill="#333">824</text>
<text x="166.05" y="183.85" font-size="6.3" text-anchor="middle" fill="#333">403</text>
<text x="205.50" y="183.85" font-size="6.3" text-anchor="middle" fill="#333">176</text>
<text x="244.95" y="183.85" font-size="6.3" text-anchor="middle" fill="#333">66</text>
<path d="M28.8,189.20 H36.2" stroke="#eac88c" stroke-width="1.2"/>
<text x="47.70" y="192.25" font-size="6.3" text-anchor="middle" fill="#333">2970</text>
<text x="87.15" y="192.25" font-size="6.3" text-anchor="middle" fill="#333">1587</text>
<text x="126.60" y="192.25" font-size="6.3" text-anchor="middle" fill="#333">650</text>
<text x="166.05" y="192.25" font-size="6.3" text-anchor="middle" fill="#333">184</text>
<text x="205.50" y="192.25" font-size="6.3" text-anchor="middle" fill="#333">46</text>
<text x="244.95" y="192.25" font-size="6.3" text-anchor="middle" fill="#333">7</text>
<path d="M28.8,197.50 H36.2" stroke="#98c4dc" stroke-width="1.2"/>
<text x="47.70" y="200.55" font-size="6.3" text-anchor="middle" fill="#333">1731</text>
<text x="87.15" y="200.55" font-size="6.3" text-anchor="middle" fill="#333">584</text>
<text x="126.60" y="200.55" font-size="6.3" text-anchor="middle" fill="#333">156</text>
<text x="166.05" y="200.55" font-size="6.3" text-anchor="middle" fill="#333">27</text>
<text x="205.50" y="200.55" font-size="6.3" text-anchor="middle" fill="#333">6</text>
<text x="244.95" y="200.55" font-size="6.3" text-anchor="middle" fill="#333">0</text>
<text x="49.2" y="211.85" font-size="6.3" fill="#333">MM</text>
<path d="M63.60,209.7 h7.4 M67.30,208.5 v2.4" stroke="#b8304f" stroke-width="0.9" fill="none"/>
<text x="74.00" y="211.85" font-size="6.3" fill="#333"><40</text>
<path d="M91.00,209.7 h7.4 M94.70,208.5 v2.4" stroke="#2d5a88" stroke-width="0.9" fill="none"/>
<text x="101.00" y="211.85" font-size="6.3" fill="#333">40-49</text>
<path d="M123.20,209.7 h7.4 M126.90,208.5 v2.4" stroke="#3c9f4a" stroke-width="0.9" fill="none"/>
<text x="133.80" y="211.85" font-size="6.3" fill="#333">50-59</text>
<path d="M156.30,209.7 h7.4 M160.00,208.5 v2.4" stroke="#472278" stroke-width="0.9" fill="none"/>
<text x="166.50" y="211.85" font-size="6.3" fill="#333">60-69</text>
<path d="M189.30,209.7 h7.4 M193.00,208.5 v2.4" stroke="#ec922e" stroke-width="0.9" fill="none"/>
<text x="199.70" y="211.85" font-size="6.3" fill="#333">70-79</text>
<path d="M221.00,209.7 h7.4 M224.70,208.5 v2.4" stroke="#2ba2d8" stroke-width="0.9" fill="none"/>
<text x="230.80" y="211.85" font-size="6.3" fill="#333">≥80</text>
</g>
<polyline points="177.10,229.30 184.50,229.30 184.50,231.00 190.50,231.00 190.50,233.00 197.50,233.00 197.50,234.50 205.00,234.50 205.00,236.00 219.00,236.00 219.00,238.00 229.00,238.00 229.00,239.60 233.50,239.60 233.50,242.00 252.00,242.00 252.00,246.60 259.20,246.60 259.20,249.40 282.20,249.40 282.20,252.80 298.60,252.80 298.60,257.30 383.60,257.30" fill="none" stroke="#b8304f" stroke-width="1.2" stroke-linejoin="round"/>
<path d="M185.42,229.80v2.40M203.07,233.30v2.40M222.42,236.80v2.40M241.60,240.80v2.40M252.75,245.40v2.40M271.91,248.20v2.40M286.25,251.60v2.40M307.63,256.10v2.40M332.69,256.10v2.40M354.38,256.10v2.40M367.55,256.10v2.40" stroke="#b8304f" stroke-width="0.8" fill="none"/>
<polyline points="177.10,229.40 191.50,233.50 207.70,237.00 221.50,242.70 240.00,249.20 257.30,257.30 274.60,260.20 282.70,264.20 303.10,265.40 319.80,266.80 324.00,269.50 337.90,271.00 343.90,274.00 348.10,275.80 357.80,276.50 366.20,279.20 367.60,283.40 374.50,284.10 375.90,286.50 383.60,286.50" fill="none" stroke="#2d5a88" stroke-width="1.6" stroke-linejoin="round"/>
<path d="M183.79,229.80v3.00M190.09,231.60v3.00M198.40,233.49v3.00M202.57,234.39v3.00M209.00,236.04v3.00M217.00,239.34v3.00M225.03,242.44v3.00M229.46,244.00v3.00M237.84,246.94v3.00M242.99,249.10v3.00M247.42,251.18v3.00M251.69,253.17v3.00M259.70,256.20v3.00M267.44,257.50v3.00M275.74,259.26v3.00M283.35,262.74v3.00M290.62,263.17v3.00M297.19,263.55v3.00M301.72,263.82v3.00M305.83,264.13v3.00M309.72,264.46v3.00M316.01,264.98v3.00M324.03,268.00v3.00M329.15,268.56v3.00M335.54,269.24v3.00M343.21,272.15v3.00M350.56,274.48v3.00M357.58,274.98v3.00M363.46,276.82v3.00M370.17,282.16v3.00M376.26,285.00v3.00" stroke="#2d5a88" stroke-width="0.8" fill="none"/>
<polyline points="177.10,229.40 185.90,232.40 199.90,237.00 215.80,243.10 230.00,248.00 257.80,258.40 290.00,268.90 305.90,275.10 319.80,278.60 333.70,281.50 338.40,283.40 357.80,286.90 371.80,289.70 383.60,293.50" fill="none" stroke="#3c9f4a" stroke-width="2.1" stroke-linejoin="round"/>
<path d="M179.25,228.53v3.20M185.32,230.60v3.20M189.21,231.89v3.20M192.66,233.02v3.20M199.24,235.18v3.20M204.78,237.27v3.20M210.29,239.39v3.20M215.57,241.41v3.20M218.97,242.59v3.20M225.87,244.98v3.20M230.11,246.44v3.20M236.94,249.00v3.20M241.20,250.59v3.20M245.43,252.17v3.20M251.91,254.60v3.20M257.14,256.55v3.20M263.82,258.76v3.20M268.71,260.36v3.20M274.68,262.30v3.20M277.74,263.30v3.20M282.54,264.87v3.20M286.48,266.15v3.20M292.05,268.10v3.20M296.75,269.93v3.20M303.09,272.41v3.20M307.23,273.83v3.20M312.06,275.05v3.20M316.37,276.14v3.20M321.55,277.37v3.20M326.18,278.33v3.20M329.34,278.99v3.20M333.35,279.83v3.20M338.11,281.68v3.20M341.36,282.33v3.20M348.06,283.54v3.20M351.56,284.17v3.20M354.80,284.76v3.20M360.02,285.74v3.20M364.48,286.64v3.20M369.52,287.64v3.20M373.73,288.72v3.20M378.79,290.35v3.20" stroke="#3c9f4a" stroke-width="0.8" fill="none"/>
<polyline points="177.10,229.40 178.00,230.23 179.19,231.38 180.63,232.74 182.26,234.20 184.03,235.66 185.90,237.00 187.91,238.25 190.11,239.49 192.46,240.73 194.90,241.96 197.40,243.19 199.90,244.40 202.46,245.60 205.12,246.78 207.84,247.96 210.56,249.13 213.23,250.31 215.80,251.50 218.31,252.74 220.81,254.02 223.27,255.31 225.64,256.57 227.90,257.74 230.00,258.80 231.82,259.68 233.36,260.39 234.78,261.02 236.24,261.67 237.93,262.40 240.00,263.30 242.66,264.45 245.81,265.80 249.19,267.24 252.50,268.66 255.46,269.95 257.80,271.00 259.17,271.70 259.73,272.11 259.94,272.39 260.27,272.69 261.21,273.18 263.20,274.00 266.62,275.28 271.17,276.92 276.31,278.74 281.52,280.57 286.26,282.21 290.00,283.50 292.61,284.38 294.47,284.99 295.88,285.41 297.08,285.76 298.37,286.12 300.00,286.60 301.75,287.12 303.34,287.60 305.01,288.10 306.99,288.67 309.51,289.39 312.80,290.30 317.29,291.53 322.89,293.06 329.02,294.72 335.13,296.37 340.64,297.85 345.00,299.00 348.01,299.78 350.10,300.31 351.59,300.67 352.83,300.94 354.16,301.23 355.90,301.60 358.04,302.08 360.31,302.59 362.66,303.11 365.06,303.60 367.45,304.04 369.80,304.40 372.28,304.67 374.95,304.87 377.62,305.02 380.10,305.14 382.19,305.22 383.70,305.30" fill="none" stroke="#472278" stroke-width="2.3" stroke-linejoin="round"/>
<path d="M182.70,232.87v3.40M187.68,236.40v3.40M190.56,238.03v3.40M193.92,239.77v3.40M198.21,241.88v3.40M202.14,243.75v3.40M205.82,245.38v3.40M208.23,246.42v3.40M212.49,248.28v3.40M217.81,250.79v3.40M222.91,253.43v3.40M226.16,255.14v3.40M231.46,257.80v3.40M233.94,258.95v3.40M238.38,260.89v3.40M241.45,262.23v3.40M246.60,264.44v3.40M249.83,265.82v3.40M254.21,267.71v3.40M258.14,269.48v3.40M261.13,271.44v3.40M265.33,273.10v3.40M268.83,274.38v3.40M273.12,275.91v3.40M275.92,276.90v3.40M278.92,277.96v3.40M282.92,279.35v3.40M285.46,280.23v3.40M289.15,281.51v3.40M294.04,283.14v3.40M296.60,283.92v3.40M302.06,285.52v3.40M306.54,286.84v3.40M309.24,287.61v3.40M314.24,288.99v3.40M319.55,290.45v3.40M323.19,291.44v3.40M326.12,292.23v3.40M330.70,293.47v3.40M334.91,294.61v3.40M338.65,295.61v3.40M341.75,296.44v3.40M346.36,297.65v3.40M350.39,298.68v3.40M354.15,299.52v3.40M357.37,300.23v3.40M360.76,300.99v3.40M366.28,302.12v3.40M368.98,302.58v3.40M371.46,302.88v3.40M374.70,303.16v3.40M377.69,303.33v3.40M382.31,303.53v3.40" stroke="#472278" stroke-width="0.8" fill="none"/>
<polyline points="177.10,229.40 177.39,230.18 177.77,231.29 178.24,232.59 178.77,233.94 179.36,235.23 180.00,236.30 180.65,237.14 181.33,237.85 182.06,238.49 182.89,239.10 183.85,239.76 185.00,240.50 186.37,241.31 187.94,242.13 189.66,242.98 191.44,243.90 193.25,244.89 195.00,246.00 196.73,247.25 198.50,248.65 200.28,250.12 202.06,251.63 203.80,253.11 205.50,254.50 207.12,255.81 208.67,257.10 210.19,258.35 211.73,259.58 213.32,260.80 215.00,262.00 216.76,263.16 218.58,264.27 220.44,265.36 222.37,266.47 224.35,267.64 226.40,268.90 228.52,270.28 230.71,271.76 232.97,273.29 235.27,274.84 237.62,276.39 240.00,277.90 242.43,279.39 244.92,280.89 247.46,282.38 250.01,283.84 252.57,285.25 255.10,286.60 257.62,287.88 260.13,289.10 262.65,290.28 265.17,291.42 267.68,292.52 270.20,293.60 272.72,294.64 275.25,295.64 277.77,296.61 280.30,297.56 282.81,298.48 285.30,299.40 287.80,300.32 290.30,301.23 292.79,302.12 295.26,302.99 297.66,303.82 300.00,304.60 302.23,305.32 304.36,305.98 306.44,306.61 308.51,307.21 310.62,307.80 312.80,308.40 315.02,309.02 317.22,309.67 319.46,310.30 321.78,310.90 324.21,311.44 326.80,311.90 329.67,312.25 332.83,312.52 336.09,312.72 339.32,312.90 342.34,313.09 345.00,313.30 347.25,313.51 349.22,313.69 350.98,313.88 352.63,314.10 354.24,314.39 355.90,314.80 357.49,315.38 358.91,316.13 360.30,316.95 361.79,317.76 363.51,318.47 365.60,319.00 368.34,319.33 371.68,319.52 375.26,319.61 378.70,319.65 381.63,319.66 383.70,319.70" fill="none" stroke="#ec922e" stroke-width="2.2" stroke-linejoin="round"/>
<path d="M180.48,235.42v3.00M184.44,238.64v3.00M191.17,242.25v3.00M196.97,245.94v3.00M201.30,249.49v3.00M207.54,254.66v3.00M214.15,259.89v3.00M220.92,264.13v3.00M226.39,267.40v3.00M233.10,271.88v3.00M239.48,276.07v3.00M244.83,279.33v3.00M247.86,281.10v3.00M252.90,283.93v3.00M257.24,286.19v3.00M261.67,288.32v3.00M264.94,289.82v3.00M270.45,292.21v3.00M274.08,293.68v3.00M280.20,296.02v3.00M283.62,297.28v3.00M290.46,299.79v3.00M293.75,300.96v3.00M299.82,303.04v3.00M304.10,304.40v3.00M310.99,306.40v3.00M317.13,308.14v3.00M322.51,309.56v3.00M325.80,310.22v3.00M329.95,310.78v3.00M333.07,311.03v3.00M339.16,311.39v3.00M345.36,311.83v3.00M351.62,312.46v3.00M356.02,313.34v3.00M361.12,315.90v3.00M366.29,317.58v3.00M372.05,318.03v3.00M377.67,318.14v3.00M382.06,318.17v3.00" stroke="#ec922e" stroke-width="0.8" fill="none"/>
<polyline points="177.10,229.40 177.14,229.76 177.20,230.21 177.26,230.77 177.35,231.46 177.46,232.29 177.60,233.30 177.76,234.55 177.93,236.04 178.13,237.68 178.37,239.37 178.65,241.05 179.00,242.60 179.42,244.08 179.92,245.58 180.46,247.04 181.04,248.44 181.62,249.74 182.20,250.90 182.75,251.85 183.29,252.60 183.84,253.24 184.42,253.88 185.07,254.60 185.80,255.50 186.57,256.55 187.36,257.66 188.20,258.86 189.16,260.16 190.27,261.57 191.60,263.10 193.20,264.83 195.04,266.76 197.04,268.79 199.12,270.86 201.20,272.85 203.20,274.70 205.13,276.40 207.07,278.01 209.00,279.57 210.93,281.07 212.87,282.55 214.80,284.00 216.71,285.42 218.59,286.80 220.48,288.14 222.39,289.46 224.35,290.78 226.40,292.10 228.53,293.44 230.73,294.79 232.98,296.12 235.28,297.45 237.62,298.74 240.00,300.00 242.43,301.23 244.92,302.44 247.46,303.62 250.01,304.76 252.57,305.86 255.10,306.90 257.62,307.88 260.13,308.80 262.65,309.67 265.17,310.51 267.68,311.32 270.20,312.10 272.72,312.86 275.25,313.59 277.77,314.29 280.30,314.96 282.81,315.60 285.30,316.20 287.63,316.76 289.78,317.29 291.92,317.79 294.22,318.25 296.85,318.69 300.00,319.10 303.87,319.49 308.36,319.85 313.18,320.18 318.06,320.49 322.69,320.76 326.80,321.00 330.22,321.20 333.16,321.36 335.85,321.49 338.56,321.60 341.52,321.70 345.00,321.80 349.38,321.91 354.53,322.01 359.94,322.10 365.10,322.18 369.49,322.25 372.60,322.30" fill="none" stroke="#2ba2d8" stroke-width="1.7" stroke-linejoin="round"/>
<path d="M183.17,251.13v2.60M187.96,257.22v2.60M194.03,264.40v2.60M200.13,270.53v2.60M205.41,275.33v2.60M211.35,280.09v2.60M217.41,284.63v2.60M224.13,289.32v2.60M232.51,294.55v2.60M238.10,297.69v2.60M243.56,300.48v2.60M247.90,302.52v2.60M257.42,306.50v2.60M265.93,309.46v2.60M272.17,311.40v2.60M277.96,313.04v2.60M287.32,315.39v2.60M293.70,316.85v2.60M300.10,317.81v2.60M307.83,318.51v2.60M313.58,318.91v2.60M318.89,319.23v2.60M323.28,319.49v2.60M332.30,320.01v2.60M340.65,320.37v2.60M348.96,320.60v2.60M355.27,320.72v2.60M360.07,320.80v2.60M366.71,320.91v2.60" stroke="#2ba2d8" stroke-width="0.8" fill="none"/>
<rect x="0.5" y="0.5" width="519" height="430" fill="none" stroke="#4a4a4a" stroke-width="1"/>
</svg>
</body></html>
